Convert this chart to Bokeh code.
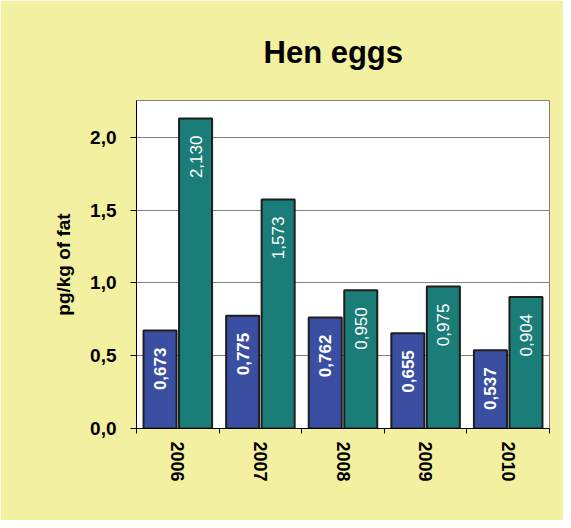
import math
from bokeh.plotting import figure
from bokeh.models import Range1d, FixedTicker
from bokeh.transform import dodge
from bokeh.core.properties import value
from bokeh.embed import file_html
from bokeh.resources import INLINE

# ---- data ----
years = ["2006", "2007", "2008", "2009", "2010"]
series_a = [0.673, 0.775, 0.762, 0.655, 0.537]   # blue bars
series_b = [2.130, 1.573, 0.950, 0.975, 0.904]   # teal bars
y_ticks = [0.0, 0.5, 1.0, 1.5, 2.0]
title_text = "Hen eggs"
y_label = "pg/kg of fat"

def fmt(v, d):
    return f"{v:.{d}f}".replace(".", ",")

FONT = "Liberation Sans"
BG = "#F4F0A1"
BLUE = "#3A4EA2"
TEAL = "#1B7D78"

n = len(years)
centers = [i + 0.5 for i in range(n)]          # category slot centers
edges = list(range(n + 1))                     # category slot boundaries

source = dict(xc=centers, a=series_a, b=series_b,
              a_lbl=[fmt(v, 3) for v in series_a],
              b_lbl=[fmt(v, 3) for v in series_b])

p = figure(x_range=Range1d(0, n), y_range=Range1d(0, 2.254),
           width=563, height=520, output_backend="svg", toolbar_location=None,
           min_border_left=136, min_border_right=14, min_border_top=100, min_border_bottom=92)

p.background_fill_color = "white"
p.border_fill_color = BG
p.outline_line_color = "#808080"
p.outline_line_width = 1

# title
p.title.text = title_text
p.title.text_font = FONT
p.title.text_font_style = "bold"
p.title.text_font_size = "31px"
p.title.text_color = "black"
p.title.align = "left"
p.title.offset = 127
p.title.standoff = 62

# y axis
yax = p.yaxis[0]
yax.ticker = FixedTicker(ticks=y_ticks)
yax.major_label_overrides = {t: fmt(t, 1) for t in y_ticks}
yax.major_label_text_font = FONT
yax.major_label_text_font_style = "bold"
yax.major_label_text_font_size = "19px"
yax.major_label_text_color = "black"
yax.major_tick_out = 6
yax.major_tick_in = 0
yax.minor_tick_out = 0
yax.minor_tick_in = 0
yax.axis_line_color = "black"
yax.major_tick_line_color = "black"
yax.axis_label = y_label
yax.axis_label_text_font = FONT
yax.axis_label_text_font_style = "bold"
yax.axis_label_text_font_size = "19px"
yax.axis_label_text_color = "black"
yax.axis_label_standoff = 13
yax.major_label_standoff = 14

p.ygrid.ticker = FixedTicker(ticks=y_ticks)
p.ygrid.grid_line_color = "#808080"
p.xgrid.visible = False

# x axis: year labels at slot centers, tick marks at slot boundaries
xax = p.xaxis[0]
xax.ticker = FixedTicker(ticks=centers, minor_ticks=edges)
xax.major_label_overrides = {c: y for c, y in zip(centers, years)}
xax.major_label_orientation = "vertical"
xax.major_label_text_font = FONT
xax.major_label_text_font_style = "bold"
xax.major_label_text_font_size = "18px"
xax.major_label_text_color = "black"
xax.major_label_standoff = 8
xax.major_tick_out = 0
xax.major_tick_in = 0
xax.minor_tick_out = 5
xax.minor_tick_in = 0
xax.axis_line_color = "black"
xax.minor_tick_line_color = "black"

# bars
p.vbar(x=dodge("xc", -0.215), top="a", width=0.4, source=source,
       fill_color=BLUE, line_color="#1E1E1E", line_width=2)
p.vbar(x=dodge("xc", 0.215), top="b", width=0.4, source=source,
       fill_color=TEAL, line_color="#1E1E1E", line_width=2)

# value labels
p.text(x=dodge("xc", -0.215), y="a", text="a_lbl", source=source,
       angle=math.pi / 2, text_align="right", text_baseline="middle", y_offset=17,
       text_color="white", text_font=value(FONT), text_font_style="bold", text_font_size="17px")
p.text(x=dodge("xc", 0.215), y="b", text="b_lbl", source=source,
       angle=math.pi / 2, text_align="right", text_baseline="middle", y_offset=17,
       text_color="white", text_font=value(FONT), text_font_style="normal", text_font_size="17px")

open("out.html", "w").write(file_html(p, INLINE))
